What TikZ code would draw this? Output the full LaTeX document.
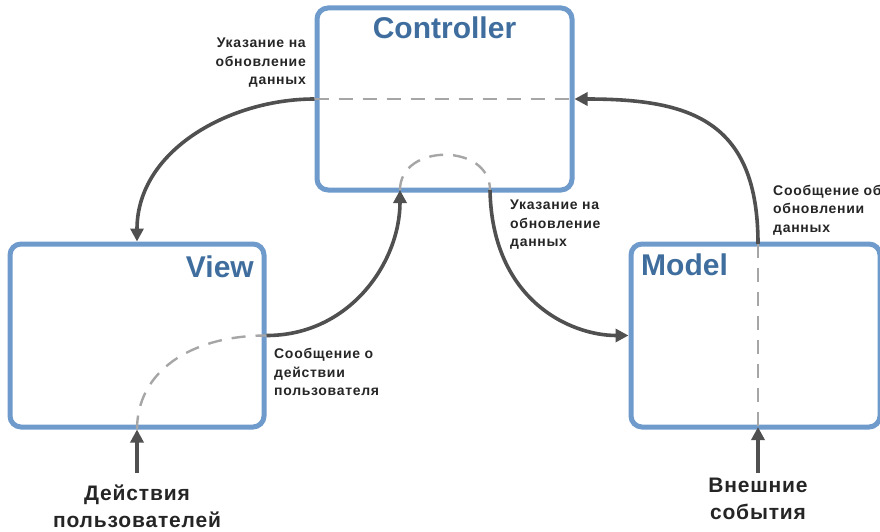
\documentclass[tikz,border=0pt]{standalone}
\usepackage{fontspec}
\setmainfont{Liberation Sans}
\usetikzlibrary{arrows.meta}
\definecolor{boxblue}{HTML}{6E9BCC}
\definecolor{titleblue}{HTML}{3F6E9E}
\definecolor{arrowgray}{HTML}{505050}
\definecolor{dashgray}{HTML}{A6A6A6}
\definecolor{txt}{HTML}{252525}
\begin{document}
\begin{tikzpicture}[x=1pt,y=-1pt,
  mvcbox/.style={draw=boxblue, line width=5pt, rounded corners=11pt, inner sep=0pt},
  titletext/.style={text=titleblue, font=\fontsize{30}{34}\selectfont\bfseries, inner sep=0pt},
  lbl/.style={text=txt, font=\fontsize{14}{18.5}\selectfont\bfseries\addfontfeature{LetterSpace=5}, inner sep=0pt},
  biglbl/.style={text=txt, font=\fontsize{21}{27}\selectfont\bfseries\addfontfeature{LetterSpace=4}, inner sep=0pt, align=center},
  dashline/.style={draw=dashgray, line width=2.4pt, dash pattern=on 14pt off 10pt},
  arr/.style={draw=arrowgray, line width=3.6pt, -{Triangle[length=13pt,width=13pt]}}]
\useasboundingbox (0,0) rectangle (880,532);
\clip (0,0) rectangle (880,532);
% boxes
\node[mvcbox, minimum width=255pt, minimum height=182pt] (ctrl) at (444.5,99) {};
\node[mvcbox, minimum width=254pt, minimum height=183pt] (view) at (137,335.5) {};
\node[mvcbox, minimum width=249pt, minimum height=183pt] (model) at (755.5,335.5) {};
% titles
\node[titletext, anchor=base] (tctrl) at (444.5,39) {Controller};
\node[titletext, anchor=base east] (tview) at (254,277) {View};
\node[titletext, anchor=base west] (tmodel) at (641,275) {Model};
% helper coordinates
\coordinate (cb1) at (400,190);
\coordinate (cb2) at (490,190);
\coordinate (mt) at (758,244);
\coordinate (mb) at (758,427);
\coordinate (ua) at (137,473);
\coordinate (ea) at (758,473);
% dashed inner paths
\draw[dashline] (ctrl.west) -- (ctrl.east);
\draw[dashline] (view.south) .. controls (137,372) and (190,335.5) .. (view.east);
\draw[dashline] (cb1) .. controls (400,143) and (490,143) .. (cb2);
\draw[dashline] (mt) -- (mb);
% arrows
\draw[arr] (ctrl.west) .. controls (230,99) and (137,150) .. (view.north);
\draw[arr] (view.east) .. controls (350,335.5) and (400,262) .. (cb1);
\draw[arr] (cb2) .. controls (492,300) and (570,335.5) .. (model.west);
\draw[arr] (mt) .. controls (758,120) and (690,99) .. (ctrl.east);
\draw[arr] (ua) -- (view.south);
\draw[arr] (ea) -- (mb);
% labels
\node[lbl, align=right, anchor=east] (l1) at (306,63) {Указание на\\обновление\\данных};
\node[lbl, align=left, anchor=west] (l2) at (510,225) {Указание на\\обновление\\данных};
\node[lbl, align=left, anchor=west] (l3) at (274,372) {Сообщение о\\действии\\пользователя};
\node[lbl, align=left, anchor=west] (l4) at (773,210) {Сообщение об\\обновлении\\данных};
\node[biglbl] (b1) at (137,506) {Действия\\пользователей};
\node[biglbl] (b2) at (758,499) {Внешние\\события};
\end{tikzpicture}
\end{document}
